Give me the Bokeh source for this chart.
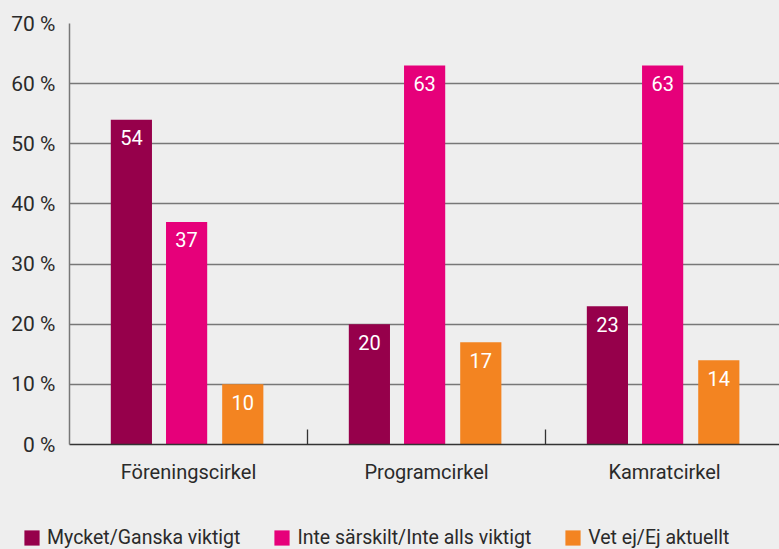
from bokeh.plotting import figure
from bokeh.layouts import column
from bokeh.models import Range1d, FixedTicker, Legend, LegendItem, ColumnDataSource
from bokeh.core.properties import value
from bokeh.embed import file_html
from bokeh.resources import INLINE

categories = ["Föreningscirkel", "Programcirkel", "Kamratcirkel"]
series = ["Mycket/Ganska viktigt", "Inte särskilt/Inte alls viktigt", "Vet ej/Ej aktuellt"]
mycket = [54, 20, 23]
inte = [37, 63, 63]
vet = [10, 17, 14]
yticks = [0, 10, 20, 30, 40, 50, 60, 70]
ytick_labels = ["0 %", "10 %", "20 %", "30 %", "40 %", "50 %", "60 %", "70 %"]

colors = ["#96004b", "#e6007a", "#f38421"]
offsets = [-0.24, -0.008, 0.228]
bar_width = 0.173
FONT = "Roboto"
BG = "#eeeeee"

p = figure(width=779, height=525, x_range=Range1d(0, 2.983), y_range=Range1d(0, 70),
           output_backend="svg", toolbar_location=None,
           min_border_left=69, min_border_right=0, min_border_top=23, min_border_bottom=81,
           background_fill_color=BG, border_fill_color=BG,
           outline_line_color=None)

sources = []
for vals, col, off in zip([mycket, inte, vet], colors, offsets):
    src = ColumnDataSource(dict(
        x=[i + 0.5 + off for i in range(len(categories))],
        top=vals,
        lab=[str(v) for v in vals],
    ))
    sources.append(src)
    p.vbar(x="x", top="top", width=bar_width, source=src, fill_color=col, line_color=None)
    p.text(x="x", y="top", text="lab", source=src, text_align="center", text_baseline="middle",
           y_offset=18, text_color="white", text_font=value(FONT), text_font_size="20px")

# x axis
p.xaxis.ticker = FixedTicker(ticks=[i + 0.5 for i in range(len(categories))],
                             minor_ticks=list(range(1, len(categories))))
p.xaxis.major_label_overrides = {i + 0.5: c for i, c in enumerate(categories)}
p.xaxis.major_tick_line_color = None
p.xaxis.minor_tick_in = 15
p.xaxis.minor_tick_out = 0
p.xaxis.minor_tick_line_color = "#333333"
p.xaxis.minor_tick_line_width = 1.3
p.xaxis.axis_line_color = "#333333"
p.xaxis.axis_line_width = 1.5
p.xaxis.major_label_standoff = 9
p.xaxis.major_label_text_font = FONT
p.xaxis.major_label_text_font_size = "20px"
p.xaxis.major_label_text_color = "#2a2a2a"

# y axis
p.yaxis.ticker = FixedTicker(ticks=yticks)
p.yaxis.major_label_overrides = {t: l for t, l in zip(yticks, ytick_labels)}
p.yaxis.major_tick_line_color = None
p.yaxis.minor_tick_line_color = None
p.yaxis.axis_line_color = "#777777"
p.yaxis.axis_line_width = 1.5
p.yaxis.major_label_standoff = 8
p.yaxis.major_label_text_font = FONT
p.yaxis.major_label_text_font_size = "21px"
p.yaxis.major_label_text_color = "#2a2a2a"

p.xgrid.grid_line_color = None
p.ygrid.grid_line_color = "#777777"
p.ygrid.grid_line_width = 1.3

# legend strip (its renderers are hidden copies of the bars, used only for the legend swatches)
lg = figure(width=826, height=24, x_range=Range1d(0, 1), y_range=Range1d(0, 1),
            output_backend="svg", toolbar_location=None,
            min_border_left=0, min_border_right=0, min_border_top=0, min_border_bottom=0,
            background_fill_color=BG, border_fill_color=BG, outline_line_color=None,
            x_axis_location=None, y_axis_location=None)
lg.margin = (0, 0, 0, -47)
lg.grid.grid_line_color = None
items = []
for s, col, src in zip(series, colors, sources):
    r = lg.vbar(x="x", top="top", width=bar_width, source=src, fill_color=col, line_color=None,
                visible=False)
    items.append(LegendItem(label=s, renderers=[r]))
legend = Legend(items=items, orientation="horizontal", location=(0, 0),
                glyph_width=19, glyph_height=19, label_standoff=6, spacing=32,
                padding=0, margin=0, background_fill_alpha=0, border_line_color=None,
                inactive_fill_alpha=0,
                label_text_font=FONT, label_text_font_size="19.5px", label_text_color="#2a2a2a",
                label_height=19)
lg.add_layout(legend)

layout = column(p, lg, spacing=0, width=779)
layout.styles = {"background-color": BG}
open("out.html", "w").write(file_html(layout, INLINE))
